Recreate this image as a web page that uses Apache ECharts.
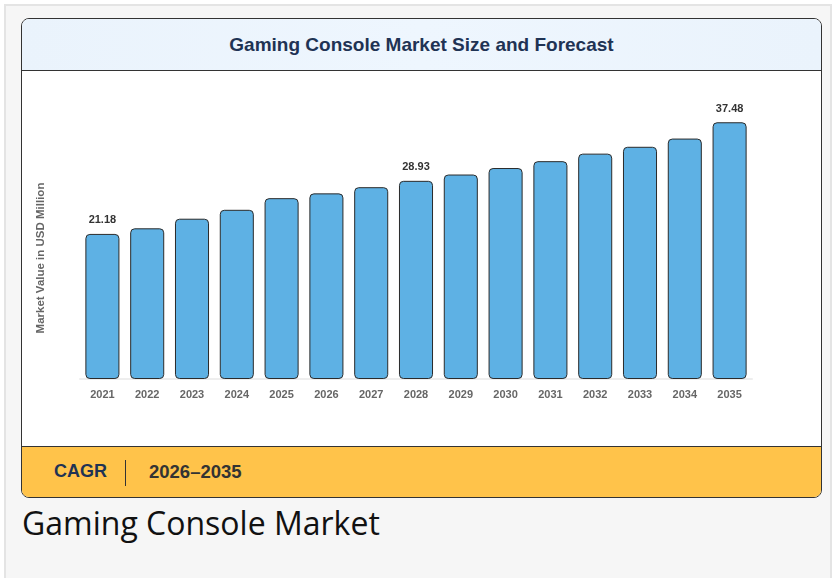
<!DOCTYPE html>
<html>
<head>
<meta charset="utf-8">
<script src="https://cdn.jsdelivr.net/npm/echarts@6/dist/echarts.min.js"></script>
<style>
  html, body { margin:0; padding:0; }
  body { width:838px; height:578px; background:#ffffff; overflow:hidden; font-family:"Liberation Sans", Arial, sans-serif; }
  #outer { position:absolute; left:4px; top:4px; width:828px; height:580px; background:#f6f6f6; border:2px solid #e4e4e4; box-sizing:border-box; }
  #card { position:absolute; left:21px; top:18px; width:801px; height:480px; border:1px solid #333; border-radius:8px; overflow:hidden; background:#fff; box-sizing:border-box; }
  #head { position:absolute; left:0; top:0; width:100%; height:52px; background:linear-gradient(90deg,#eaf3fc,#eef6fe 50%,#eaf3fc); border-bottom:1px solid #333; box-sizing:border-box; text-align:center; line-height:51px; font-weight:bold; font-size:19px; color:#1f3354; }
  #chart { position:absolute; left:0; top:52px; width:799px; height:375px; }
  #foot { position:absolute; left:0; top:427px; width:100%; height:52px; background:#ffc34a; border-top:1px solid #333; box-sizing:border-box; }
  #cagr { position:absolute; left:32px; top:0; line-height:49px; font-weight:bold; font-size:18px; color:#1f3354; }
  #sep { position:absolute; left:103px; top:13px; width:1px; height:26px; background:#333; }
  #yrs { position:absolute; left:127px; top:0; line-height:49px; font-weight:bold; font-size:18.5px; color:#333; }
  #caption { position:absolute; left:22px; top:501px; font-family:"Open Sans", sans-serif; font-size:32px; color:#111; }
</style>
</head>
<body>
<div id="outer"></div>
<div id="card">
  <div id="head">Gaming Console Market Size and Forecast</div>
  <div id="chart"></div>
  <div id="foot"><span id="cagr">CAGR</span><div id="sep"></div><span id="yrs">2026–2035</span></div>
</div>
<div id="caption">Gaming Console Market</div>
<script>
const years = ['2021','2022','2023','2024','2025','2026','2027','2028','2029','2030','2031','2032','2033','2034','2035'];
const marketValues = [21.18, 22.0, 23.4, 24.7, 26.4, 27.1, 28.0, 28.93, 29.85, 30.8, 31.8, 32.9, 33.9, 35.1, 37.48];
const labeledYears = ['2021','2028','2035'];
const yAxisTitle = 'Market Value in USD Million';

const chart = echarts.init(document.getElementById('chart'), null, {renderer:'canvas'});
chart.setOption({
  animation:false,
  grid:{ left:58, right:69, top:34, bottom:67 },
  xAxis:{
    type:'category', data:years,
    axisLine:{ show:true, lineStyle:{ color:'#eeeeee', width:2 } },
    axisTick:{ show:false },
    axisLabel:{ color:'#666', fontWeight:'bold', fontSize:11, margin:10, fontFamily:'Liberation Sans, Arial, sans-serif' }
  },
  yAxis:{
    type:'value', min:0, max:40, show:false
  },
  graphic:[{
    type:'text',
    rotation:Math.PI/2,
    style:{ text:yAxisTitle, fill:'#666', font:'bold 11.5px "Liberation Sans", Arial, sans-serif', align:'center', verticalAlign:'middle' },
    x:19, y:187
  }],
  series:[{
    type:'bar', barWidth:'76%',
    data: marketValues.map((v,i)=>({
      value:v,
      label:{ show: labeledYears.includes(years[i]) }
    })),
    itemStyle:{ color:'#5eb1e4', borderColor:'#2b2b2b', borderWidth:1, borderRadius:4 },
    label:{ position:'top', distance:8, color:'#333', fontWeight:'bold', fontSize:11, fontFamily:'Liberation Sans, Arial, sans-serif', formatter:p=>p.value.toFixed(2) }
  }]
});
</script>
</body>
</html>
